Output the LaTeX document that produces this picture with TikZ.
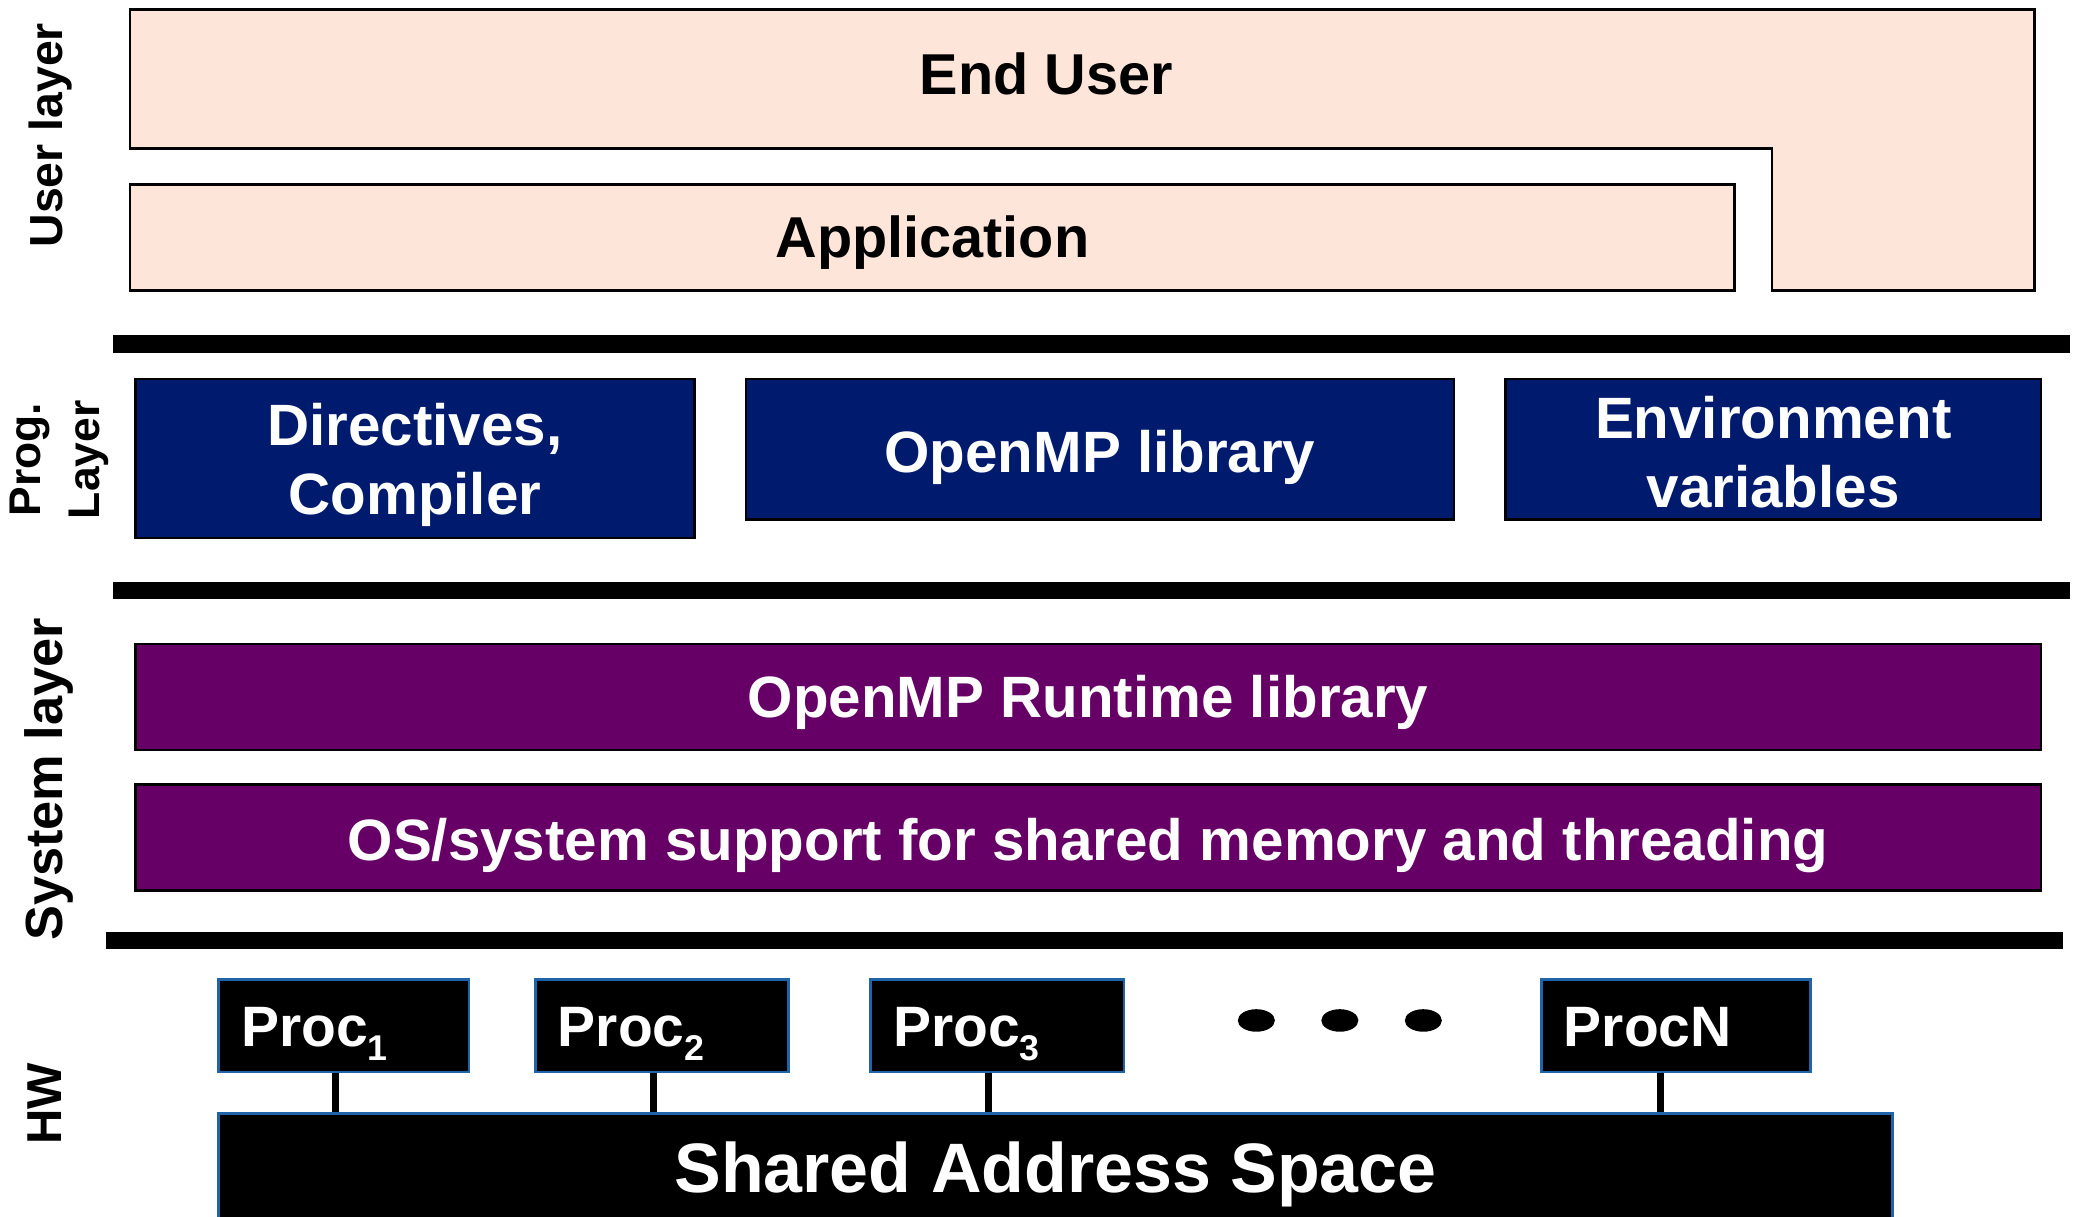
\documentclass[tikz,border=0pt]{standalone}
\usepackage{fontspec}
\setmainfont{Liberation Sans}
\definecolor{peach}{HTML}{FDE6D9}
\definecolor{navy}{HTML}{001B6E}
\definecolor{plum}{HTML}{660066}
\definecolor{procblue}{HTML}{1F64A8}
\newcommand{\fsz}[2]{\fontsize{#1}{#2}\selectfont\bfseries}
\tikzset{
  peachbox/.style={draw=black, fill=peach, line width=2pt, inner sep=0pt, text=black, font=\fsz{43.5}{52}},
  navybox/.style={draw=black, fill=navy, line width=2pt, inner sep=0pt, text=white, align=center, font=\fsz{44}{52}},
  plumbox/.style={draw=black, fill=plum, line width=2pt, inner sep=0pt, text=white, font=\fsz{44}{52}},
  procbox/.style={draw=procblue, fill=black, line width=2pt, inner xsep=17pt, inner ysep=0pt, minimum height=70pt, text=white, align=left, text height=35pt, text depth=3pt, font=\fsz{43}{43}},
  sasbox/.style={draw=procblue, fill=black, line width=2pt, inner sep=0pt, text=white, font=\fsz{52.8}{60}},
  sidelabel/.style={rotate=90, inner sep=0pt, text=black, font=\fsz{37}{37}},
  bar/.style={fill=black},
  conn/.style={draw=black, line width=5pt},
}
\newcommand{\sub}[1]{\raisebox{-10pt}{\fontsize{27}{27}\selectfont\bfseries #1}}
\begin{document}
\begin{tikzpicture}[x=1pt,y=-1pt]
\useasboundingbox (0,0) rectangle (1568,918);
% ---- user layer
\draw[peachbox] (98,7) -- (1535,7) -- (1535,219) -- (1337,219) -- (1337,112) -- (98,112) -- cycle;
\node[inner sep=0pt, text=black, font=\fsz{43.5}{52}] (enduser) at (789.5,56) {End User};
\node[peachbox, minimum width=1211pt, minimum height=80pt, text height=40pt, text depth=9pt] (app) at (703.5,179) {Application};
\fill[bar] (85,253) rectangle (1562,266);
% ---- prog layer
\node[navybox, minimum width=422pt, minimum height=120pt] (dir) at (313,346) {\rule{0pt}{41pt}Directives,\\Compiler};
\node[navybox, minimum width=534pt, minimum height=106pt, text height=44pt, text depth=9pt] (lib) at (830,339) {OpenMP library};
\node[navybox, minimum width=404pt, minimum height=106pt] (env) at (1338,339) {\rule{0pt}{36pt}Environment\\variables};
\fill[bar] (85,439) rectangle (1562,452);
% ---- system layer
\node[plumbox, minimum width=1438pt, minimum height=80pt, text height=40pt, text depth=9pt] (rt) at (821,526) {OpenMP Runtime library};
\node[plumbox, minimum width=1438pt, minimum height=80pt, text height=44pt, text depth=9pt] (os) at (821,632) {OS/system support for shared memory and threading};
\fill[bar] (80,703) rectangle (1557,716);
% ---- hardware
\node[sasbox, minimum width=1263pt, minimum height=92pt] (sas) at (796.5,886) {Shared Address Space};
\node[procbox, text width=155pt] (p1) at (259.5,774) {Proc\sub{1}};
\node[procbox, text width=157pt] (p2) at (499.5,774) {Proc\sub{2}};
\node[procbox, text width=157pt] (p3) at (752.5,774) {Proc\sub{3}};
\node[procbox, text width=169pt] (pn) at (1264.5,774) {ProcN};
\draw[conn] ([xshift=-6.5pt]p1.south) -- ([xshift=-6.5pt]p1.south |- sas.north);
\draw[conn] ([xshift=-6.5pt]p2.south) -- ([xshift=-6.5pt]p2.south |- sas.north);
\draw[conn] ([xshift=-6.5pt]p3.south) -- ([xshift=-6.5pt]p3.south |- sas.north);
\draw[conn] ([xshift=-11.5pt]pn.south) -- ([xshift=-11.5pt]pn.south |- sas.north);
\fill (948,770) ellipse [x radius=14pt, y radius=8.5pt];
\fill (1011,770) ellipse [x radius=14pt, y radius=8.5pt];
\fill (1074,770) ellipse [x radius=14pt, y radius=8.5pt];
% ---- side labels
\node[sidelabel, anchor=base, font=\fsz{35}{35}] (luser) at (47,102) {User layer};
\node[sidelabel, align=center, font=\fsz{33.5}{44}] (lprog) at (44.7,347) {Prog.\\Layer};
\node[sidelabel, anchor=base, font=\fsz{39.5}{39.5}] (lsys) at (47,588) {System layer};
\node[sidelabel, anchor=base] (lhw) at (46.5,833) {HW};
\end{tikzpicture}
\end{document}
